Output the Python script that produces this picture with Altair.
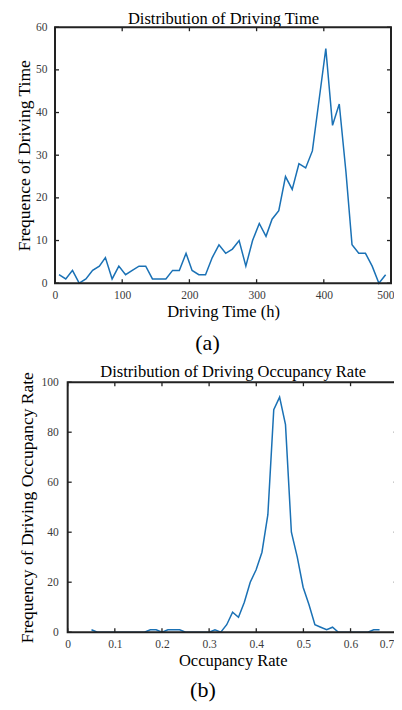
import altair as alt
import pandas as pd

# ---- Panel (a): Distribution of Driving Time ----
time_h = [6, 16, 26, 36, 46, 56, 66, 75, 85, 95,
          105, 115, 125, 135, 145, 155, 165, 175, 185, 195,
          204, 214, 224, 234, 244, 254, 264, 274, 284, 294,
          304, 314, 323, 333, 343, 353, 363, 373, 383, 393,
          403, 413, 423, 433, 442, 452, 462, 472, 482, 492]
time_freq = [2, 1, 3, 0, 1, 3, 4, 6, 1, 4,
             2, 3, 4, 4, 1, 1, 1, 3, 3, 7,
             3, 2, 2, 6, 9, 7, 8, 10, 4, 10,
             14, 11, 15, 17, 25, 22, 28, 27, 31, 43,
             55, 37, 42, 26, 9, 7, 7, 4, 0, 2]
time_xticks = [0, 100, 200, 300, 400, 500]
time_yticks = [0, 10, 20, 30, 40, 50, 60]

# ---- Panel (b): Distribution of Driving Occupancy Rate ----
occ_rate = [0.0505, 0.0630, 0.0754, 0.0879, 0.1004, 0.1129, 0.1253, 0.1378, 0.1503, 0.1627,
            0.1752, 0.1877, 0.2001, 0.2126, 0.2251, 0.2376, 0.2500, 0.2625, 0.2750, 0.2874,
            0.2999, 0.3124, 0.3248, 0.3373, 0.3498, 0.3623, 0.3747, 0.3872, 0.3997, 0.4121,
            0.4246, 0.4371, 0.4495, 0.4620, 0.4745, 0.4870, 0.4994, 0.5119, 0.5244, 0.5368,
            0.5493, 0.5618, 0.5742, 0.5867, 0.5992, 0.6117, 0.6241, 0.6366, 0.6491, 0.6615]
occ_freq = [1, 0, 0, 0, 0, 0, 0, 0, 0, 0,
            1, 1, 0, 1, 1, 1, 0, 0, 0, 0,
            0, 1, 0, 3, 8, 6, 12, 20, 25, 32,
            47, 89, 94, 83, 40, 30, 18, 11, 3, 2,
            1, 2, 0, 0, 0, 0, 0, 0, 1, 1]
occ_xticks = [0, 0.1, 0.2, 0.3, 0.4, 0.5, 0.6, 0.7]
occ_yticks = [0, 20, 40, 60, 80, 100]

FONT = "Liberation Serif"
LINE = "#1a71b5"
AXC = "#222222"

text_style = dict(domain=False, grid=False, ticks=False,
                  labelFont=FONT, labelFontSize=11.5, labelColor="#3a3a3a",
                  labelOverlap=False,
                  titleFont=FONT, titleFontWeight="normal", titleColor="black")


def panel(df, xmin, xmax, xdom, ydom, xticks, yticks, xtitle, ytitle, ptitle, tag,
          w, h, inset, plot_w, ylp, ytp, xfmt, flush_off, tag_dx, tag_off, top_pad):
    xs = alt.Scale(domain=xdom, nice=False, zero=False)
    ys = alt.Scale(domain=ydom, nice=False)
    title_x = inset + plot_w / 2
    base = alt.Chart(df)
    main = base.mark_line(color=LINE, strokeWidth=1.5).encode(
        x=alt.X("x:Q", scale=xs,
                axis=alt.Axis(orient="bottom", values=xticks, format=xfmt, title=xtitle,
                              labelPadding=6, titlePadding=3, titleFontSize=16.5,
                              labelFlush=True, labelFlushOffset=flush_off,
                              titleX=title_x, **text_style)),
        y=alt.Y("y:Q", scale=ys,
                axis=alt.Axis(orient="left", values=yticks, format="d", title=ytitle,
                              offset=-inset, labelPadding=ylp, titlePadding=ytp,
                              labelFlush=False, titleFontSize=17.5, **text_style)),
    )
    mirror = base.mark_line(strokeOpacity=0).encode(
        x=alt.X("x:Q", scale=xs,
                axis=alt.Axis(orient="top", values=xticks, labels=False, title=ptitle,
                              titlePadding=top_pad, titleFontSize=16.5,
                              titleX=title_x, **text_style)),
        y=alt.Y("y:Q", scale=ys, axis=None),
    )
    frame_df = pd.DataFrame({"x0": [xmin], "x1": [xmax], "y0": [ydom[0]], "y1": [ydom[1]]})
    frame = alt.Chart(frame_df).mark_rect(
        filled=False, stroke=AXC, strokeWidth=2, strokeOpacity=1
    ).encode(
        x=alt.X("x0:Q", scale=xs, axis=None),
        x2="x1:Q",
        y=alt.Y("y0:Q", scale=ys, axis=None),
        y2="y1:Q",
    )
    xt = alt.Chart(pd.DataFrame({"t": xticks}))
    yt = alt.Chart(pd.DataFrame({"t": yticks}))
    tick_kw = dict(color=AXC, size=4, thickness=1.3, opacity=1)
    t_bottom = xt.mark_tick(**tick_kw).encode(
        x=alt.X("t:Q", scale=xs, axis=None), y=alt.value(h - 2))
    t_top = xt.mark_tick(**tick_kw).encode(
        x=alt.X("t:Q", scale=xs, axis=None), y=alt.value(2))
    t_left = yt.mark_tick(**tick_kw).encode(
        y=alt.Y("t:Q", scale=ys, axis=None), x=alt.value(inset + 2))
    t_right = yt.mark_tick(**tick_kw).encode(
        y=alt.Y("t:Q", scale=ys, axis=None), x=alt.value(inset + plot_w - 2))
    return (
        alt.layer(main, mirror, frame, t_bottom, t_top, t_left, t_right)
        .resolve_axis(x="independent", y="independent")
        .properties(width=w, height=h,
                    title=alt.Title(tag, orient="bottom", fontSize=22, font=FONT,
                                    fontWeight="normal", offset=tag_off, frame="group",
                                    anchor="middle", dx=tag_dx, color="black"))
    )


df_a = pd.DataFrame({"x": time_h, "y": time_freq})
df_b = pd.DataFrame({"x": occ_rate, "y": occ_freq})

pa = panel(df_a, 0, 500, [0, 500], [0, 60], time_xticks, time_yticks,
           "Driving Time (h)", "Frequence of Driving Time",
           "Distribution of Driving Time", "(a)",
           w=336, h=256, inset=0, plot_w=336, ylp=8, ytp=2, xfmt="d",
           flush_off=3, tag_dx=-15.5, tag_off=12.6, top_pad=1)
# panel (b) plot starts 12.7 px right of panel (a): the x domain extends left by that much
pb = panel(df_b, 0, 0.7, [-0.0269, 0.7], [0, 100], occ_xticks, occ_yticks,
           "Occupancy Rate", "Frequency of Driving Occupancy Rate",
           "Distribution of Driving Occupancy Rate", "(b)",
           w=342.7, h=250, inset=12.7, plot_w=330, ylp=9.5, ytp=4, xfmt="~g",
           flush_off=-4, tag_dx=-23.4, tag_off=11, top_pad=2.5)

chart = (
    alt.concat(pa, pb, columns=1, spacing=9)
    .properties(autosize=alt.AutoSizeParams(type="none"),
                padding={"left": 47, "top": 19.2, "right": 339, "bottom": 674.8})
    .configure_view(strokeWidth=0)
)

chart.save("out.html", embed_options={"renderer": "svg", "actions": False})
